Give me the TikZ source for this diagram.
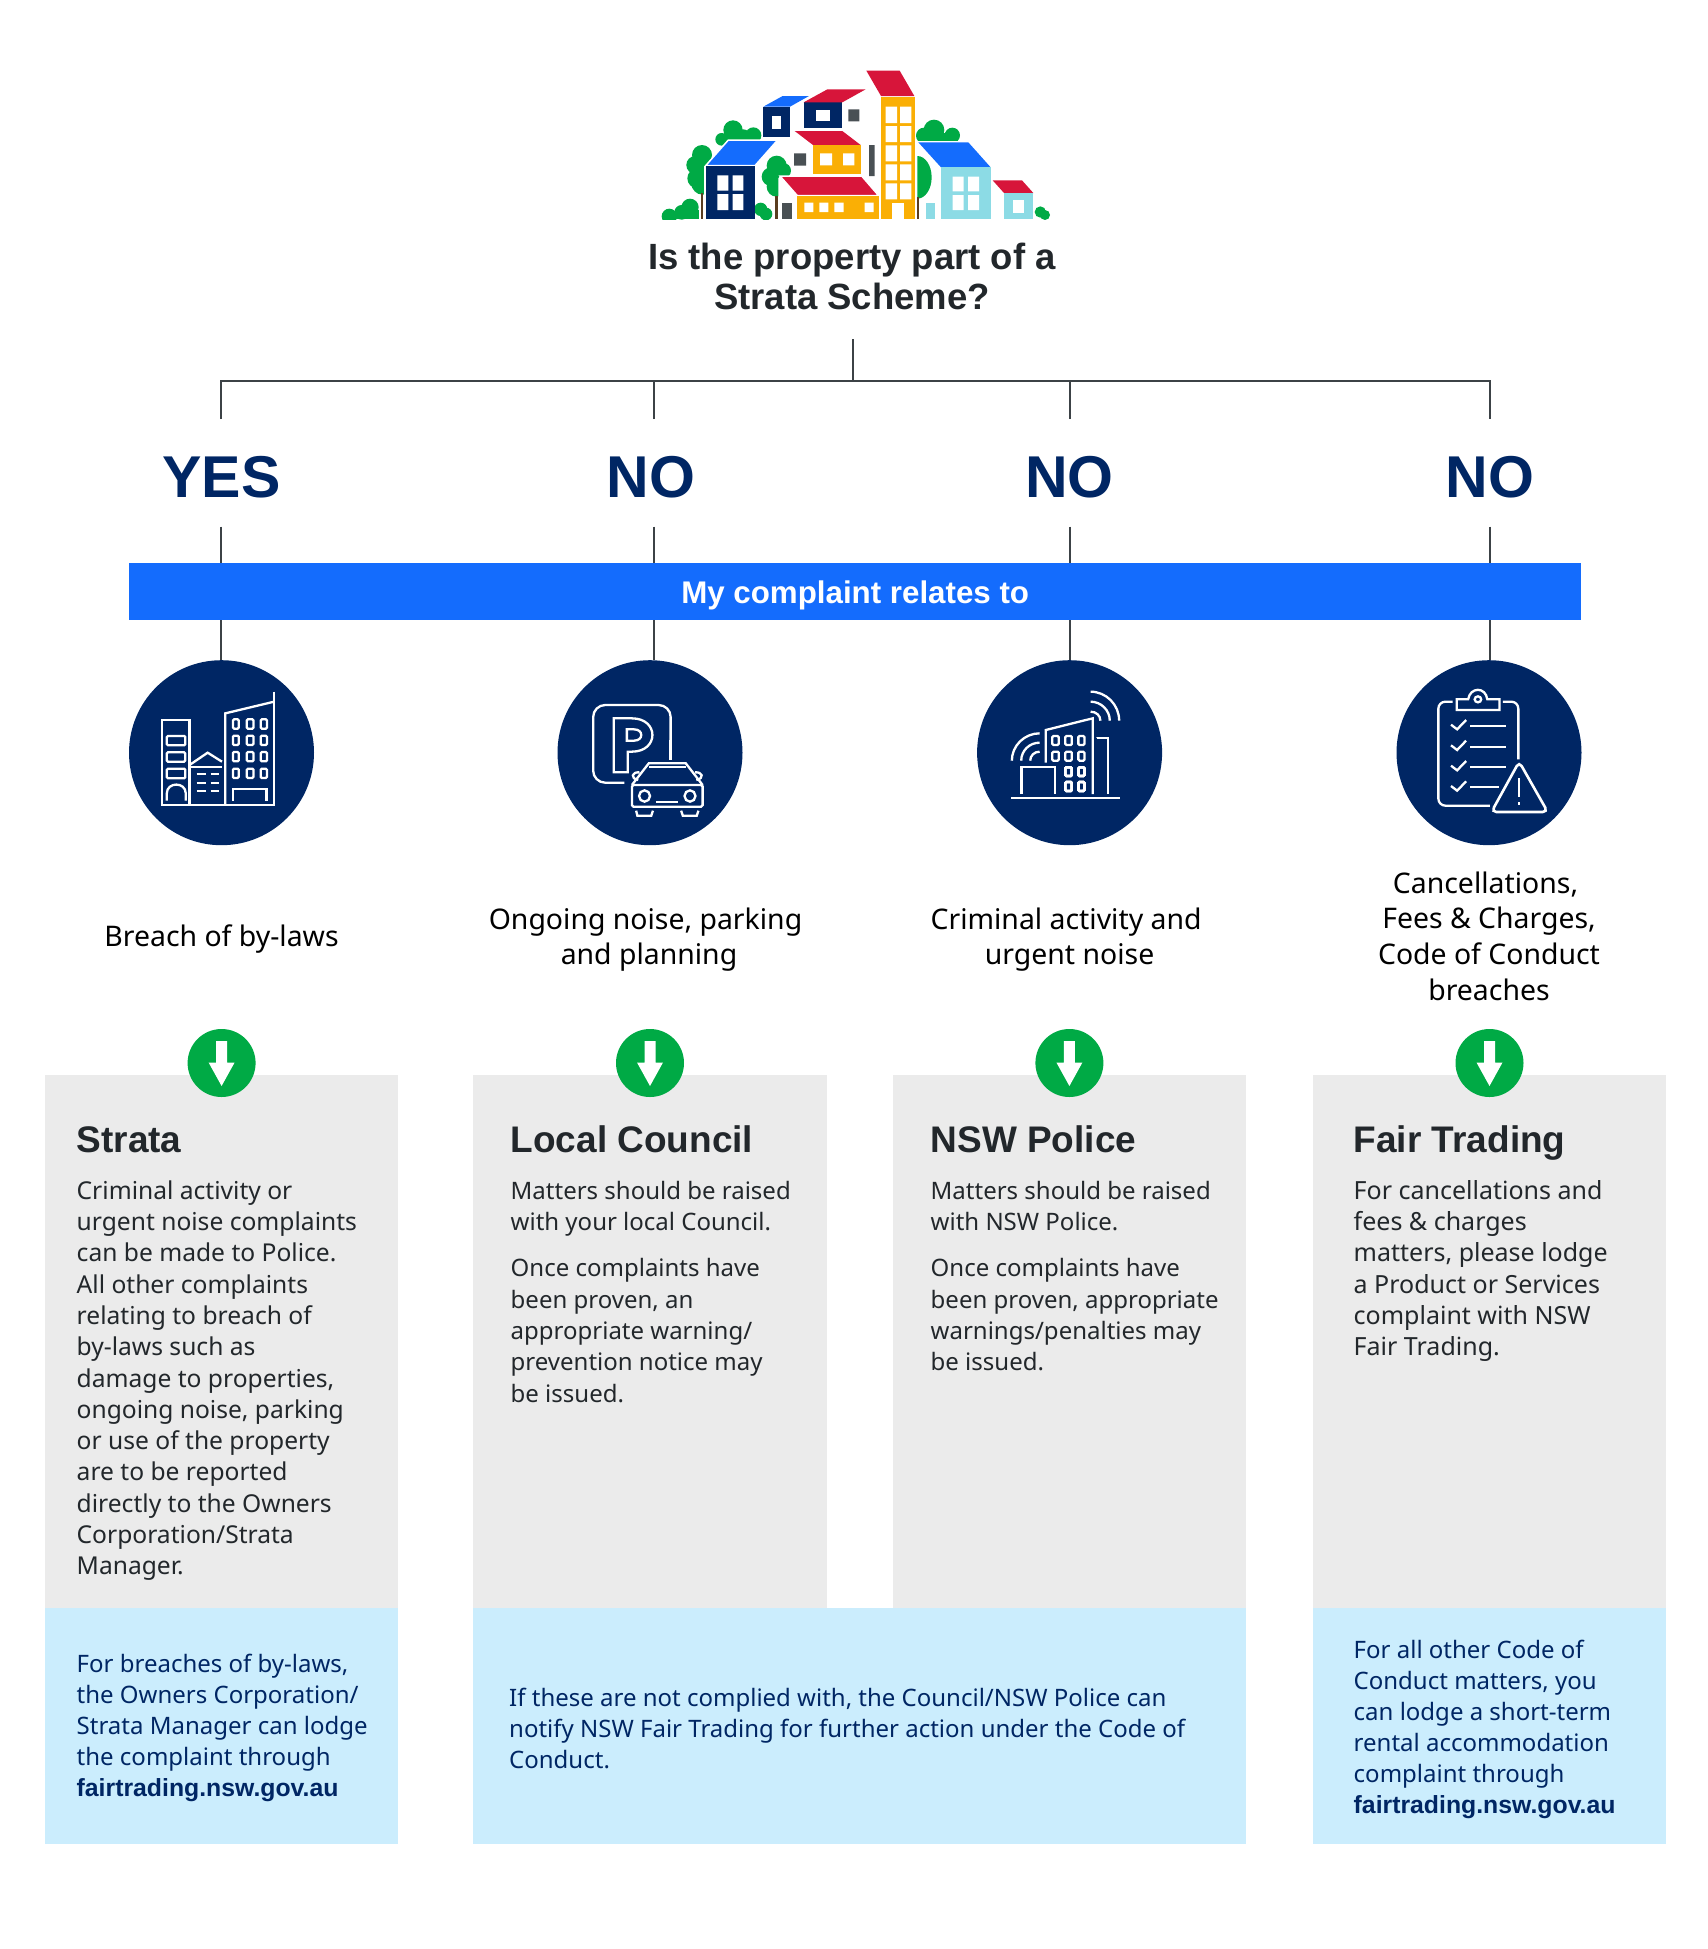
\documentclass[tikz,border=0pt]{standalone}
\usepackage{fontspec}
\setmainfont{Noto Sans}
\newfontfamily\strongface{Liberation Sans Bold}
\definecolor{navy}{HTML}{002664}
\definecolor{bright}{HTML}{146CFD}
\definecolor{leaf}{HTML}{00AA45}
\definecolor{pale}{HTML}{CBEDFD}
\definecolor{panelgrey}{HTML}{EBEBEB}
\definecolor{rose}{HTML}{D7153A}
\definecolor{amber}{HTML}{FAAF05}
\definecolor{aqua}{HTML}{8CDBE5}
\definecolor{slate}{HTML}{495054}
\definecolor{wire}{HTML}{3C4246}
\definecolor{ink}{HTML}{22272B}
\definecolor{bark}{HTML}{5A3D20}
\newcommand\fl{\rule{0pt}{24pt}}
\newcommand\winrect[4]{\draw[iconline,rounded corners=1.2pt] (#1,#2) rectangle (#3,#4);}
\newcommand\blob[3]{\fill[leaf] (#1,#2) circle [radius=#3];}
\newcommand\weblink[1]{{\strongface\fontsize{24.8}{31}\selectfont #1}}
\tikzset{
  connector/.style={draw=wire,line width=2pt},
  panel/.style={rectangle,fill=panelgrey,anchor=north west,inner sep=0,outer sep=0},
  bluepanel/.style={rectangle,fill=pale,anchor=north west,inner sep=0,outer sep=0},
  answer/.style={anchor=base,text=navy,inner sep=0,font=\strongface\fontsize{59}{60}\selectfont},
  heading/.style={anchor=base west,text=ink,inner sep=0,font=\strongface\fontsize{37}{40}\selectfont},
  body/.style={anchor=north west,align=left,text=ink,inner sep=0,font=\fontsize{24.6}{31.3}\selectfont},
  narrowbody/.style={body,font=\fontsize{24}{31.3}\selectfont},
  bluebody/.style={anchor=north west,align=left,text=navy,inner sep=0,font=\fontsize{24}{31}\selectfont},
  topic/.style={anchor=north,align=center,text=black,inner sep=0,font=\fontsize{28.4}{35.7}\selectfont},
  iconcircle/.style={circle,fill=navy,minimum size=185pt,inner sep=0,outer sep=0},
  greendot/.style={circle,fill=leaf,minimum size=68pt,inner sep=0,outer sep=0},
  iconline/.style={draw=white,line width=2.3pt,fill=none},
  roofedge/.style={draw=white,line width=1.5pt},
}
\begin{document}
\begin{tikzpicture}[x=1pt,y=-1pt]
\useasboundingbox (0,0) rectangle (1708,1949);
% ---- logo
\begin{scope}[shift={(640,50)},scale=1/3]
  \begin{scope}
    \clip (0,0) rectangle (1320,507);
    \blob{88}{499}{23} \blob{125}{487}{22} \blob{150}{472}{26}
    \fill[leaf] (88,490) rectangle (176,507);
    \fill[leaf] (150,480) rectangle (176,507);
    \blob{362}{478}{20} \blob{378}{492}{19}
    \blob{1201}{486}{17} \blob{1215}{495}{15}
  \end{scope}
  \blob{279}{240}{29} \blob{245}{268}{19} \blob{340}{256}{24} \blob{310}{258}{20}
  \fill[leaf] (245,255) rectangle (360,285);
  \blob{186}{315}{30} \blob{166}{345}{27} \blob{172}{385}{30} \blob{188}{350}{32} \blob{188}{400}{34}
  \blob{410}{347}{30} \blob{393}{380}{28} \blob{430}{362}{23} \blob{410}{385}{30} \blob{410}{410}{30}
  \begin{scope}
    \clip (832,300) rectangle (900,450);
    \fill[leaf] (832,382) circle [x radius=43, y radius=64];
  \end{scope}
  \begin{scope}
    \clip (800,200) rectangle (1000,272);
    \blob{882}{240}{31} \blob{852}{257}{24} \blob{937}{256}{23}
    \fill[leaf] (850,250) rectangle (937,272);
  \end{scope}
  \fill[bark] (183,430) rectangle (190,507);
  \fill[bark] (405,438) rectangle (413,507);
  \fill[bark] (832,440) rectangle (838,507);
  % left house
  \filldraw[fill=bright,roofedge] (265,270) -- (413,270) -- (345,347) -- (197,347) -- cycle;
  \fill[white] (192,347) rectangle (197,507);
  \fill[navy] (197,347) rectangle (345,507);
  \fill[white] (232,376) rectangle (265,422) (278,376) rectangle (310,422) (232,432) rectangle (265,480) (278,432) rectangle (310,480);
  % top small houses
  \fill[navy] (370,170) rectangle (450,262);
  \fill[white] (396,197) rectangle (423,236);
  \fill[bright] (370,170) -- (428,138) -- (507,138) -- (450,170) -- cycle;
  \fill[navy] (491,157) rectangle (607,235);
  \fill[white] (527,179) rectangle (571,213);
  \fill[rose] (491,157) -- (562,118) -- (677,118) -- (607,157) -- cycle;
  % grey blocks
  \fill[slate] (625,178) rectangle (658,214) (462,310) rectangle (498,347) (687,285) rectangle (704,378);
  % yellow house
  \fill[rose] (464,243) -- (607,243) -- (662,285) -- (519,285) -- cycle;
  \fill[amber] (519,285) rectangle (663,371);
  \fill[white] (540,310) rectangle (576,346) (609,310) rectangle (643,346);
  % long house
  \fill[white] (420,378) -- (472,437) -- (472,507) -- (415,507) -- (415,385) -- cycle;
  \filldraw[fill=rose,roofedge] (420,378) -- (665,378) -- (716,437) -- (472,437) -- cycle;
  \fill[slate] (427,459) rectangle (456,507);
  \fill[amber] (472,438) rectangle (716,507);
  \fill[white] (493,458) rectangle (520,486) (538,458) rectangle (565,486) (583,458) rectangle (611,486) (674,458) rectangle (701,486);
  % tower
  \fill[rose] (679,62) -- (779,62) -- (823,138) -- (723,138) -- cycle;
  \fill[amber] (723,140) rectangle (825,507);
  \foreach \yy/\zz in {170/219,228/276,286/334,343/391,400/448}
    \fill[white] (737,\yy) rectangle (771,\zz) (780,\yy) rectangle (814,\zz);
  \fill[white] (757,460) rectangle (791,507);
  % right
  \fill[aqua] (858,459) rectangle (885,507);
  \fill[bright] (835,277) -- (985,277) -- (1052,352) -- (903,352) -- cycle;
  \fill[aqua] (903,352) rectangle (1052,507);
  \fill[white] (938,380) rectangle (971,424) (984,380) rectangle (1017,424) (938,435) rectangle (971,480) (984,435) rectangle (1017,480);
  \fill[rose] (1058,391) -- (1146,391) -- (1180,429) -- (1092,429) -- cycle;
  \fill[aqua] (1092,429) rectangle (1180,507);
  \fill[white] (1119,451) rectangle (1153,488);
\end{scope}
% ---- question
\node[anchor=north,align=center,text=ink,inner sep=0,font=\strongface\fontsize{36.5}{40.5}\selectfont] (question) at (852,241) {\rule{0pt}{28pt}Is the property part of a\\Strata Scheme?};
% ---- tree
\coordinate (trunk) at (853,339);
\coordinate (hub) at (853,380.7);
\coordinate (d1) at (221.3,419);
\coordinate (d2) at (653.5,419);
\coordinate (d3) at (1070,419);
\coordinate (d4) at (1489.5,419);
\draw[connector] (trunk) -- (hub);
\draw[connector] (d1) |- (d4 |- hub) -- (d4);
\draw[connector] (d2) -- (d2 |- hub);
\draw[connector] (d3) -- (d3 |- hub);
\node[answer] (a1) at (221.5,497.7) {YES};
\node[answer] (a2) at (651,497.7) {NO};
\node[answer] (a3) at (1069.5,497.7) {NO};
\node[answer] (a4) at (1490,497.7) {NO};
\coordinate (e1) at (221.3,526.7);
\coordinate (e2) at (653.5,526.7);
\coordinate (e3) at (1070,526.7);
\coordinate (e4) at (1489.5,526.7);
% ---- bar
\node[rectangle,fill=bright,text=white,minimum width=1451.5pt,minimum height=57pt,inner sep=0,outer sep=0,font=\strongface\fontsize{31.3}{32}\selectfont] (bar) at (855.2,591.5) {\raisebox{-11.5pt}[0pt][0pt]{My complaint relates to}};
\node[iconcircle] (c1) at (221.5,752.7) {};
\node[iconcircle] (c2) at (650,752.7) {};
\node[iconcircle] (c3) at (1069.6,752.7) {};
\node[iconcircle] (c4) at (1489,752.7) {};
\foreach \i in {1,2,3,4} {
  \draw[connector] (e\i) -- (e\i |- bar.north);
  \draw[connector] (e\i |- bar.south) -- (e\i |- c\i.north);
}
% ---- icon 1
\begin{scope}[shift={(110,650)},xscale=0.4209,yscale=1/3]
  \draw[iconline] (124,465) -- (124,209) -- (189,209) -- (189,465);
  \winrect{135}{258}{179}{286} \winrect{135}{307}{179}{335} \winrect{135}{356}{179}{385}
  \draw[iconline] (135,452) -- (135,430) .. controls (135,395) and (180,395) .. (180,430) -- (180,452);
  \draw[iconline] (189,345) -- (232,308) -- (266,335);
  \draw[iconline] (192,350) -- (266,350);
  \foreach \yy in {373,398,423} \draw[iconline] (206,\yy) -- (229,\yy) (239,\yy) -- (258,\yy);
  \draw[iconline] (274,465) -- (274,190) -- (390,155);
  \draw[iconline] (390,125) -- (390,465);
  \draw[iconline] (122,465) -- (392,465);
  \foreach \xa/\xb in {292/306,325/341,358/373} \foreach \ya/\yb in {208/236,257/285,306/334,356/384} \winrect{\xa}{\ya}{\xb}{\yb}
  \draw[iconline] (293,452) -- (293,416) -- (372,416) -- (372,452);
\end{scope}
% ---- icon 2
\begin{scope}[shift={(110,650)},xscale=0.4209,yscale=1/3]
  \draw[iconline,rounded corners=12pt] (1222,398) -- (1148,398) -- (1148,165) -- (1332,165) -- (1332,280);
  \draw[iconline] (1332,270) -- (1332,330);
  \draw[iconline] (1197,367) -- (1197,205) -- (1240,205) .. controls (1305,205) and (1305,305) .. (1240,305) -- (1230,305) -- (1230,367) -- cycle;
  \draw[iconline] (1228,238) -- (1245,238) .. controls (1268,238) and (1268,272) .. (1245,272) -- (1228,272) -- cycle;
  \draw[iconline] (1240,405) -- (1280,340) -- (1368,340) -- (1408,405);
  \draw[iconline] (1280,350) -- (1368,350);
  \draw[iconline,rounded corners=1.5pt] (1240,405) rectangle (1408,470);
  \draw[iconline] (1270,438) circle [x radius=13, y radius=17];
  \draw[iconline] (1378,438) circle [x radius=13, y radius=17];
  \draw[iconline] (1297,455) -- (1350,455);
  \draw[iconline] (1250,482) -- (1253,497) -- (1286,497) -- (1290,482);
  \draw[iconline] (1357,482) -- (1361,497) -- (1394,497) -- (1398,482);
  \draw[iconline] (1255,390) .. controls (1235,385) and (1240,365) .. (1258,367);
  \draw[iconline] (1393,390) .. controls (1413,385) and (1408,365) .. (1390,367);
\end{scope}
% ---- icon 3
\begin{scope}[shift={(960,650)},xscale=1/2.45,yscale=1/3]
  \draw[iconline] (320,185) .. controls (334,185) and (344,197) .. (344,212);
  \draw[iconline] (320,155) .. controls (346,155) and (367,181) .. (367,212);
  \draw[iconline] (320,125) .. controls (358,125) and (390,164) .. (390,212);
  \draw[iconline] (172,332) .. controls (172,317) and (182,305) .. (195,305);
  \draw[iconline] (150,332) .. controls (150,302) and (170,278) .. (195,278);
  \draw[iconline] (127,332) .. controls (127,287) and (158,250) .. (195,250);
  \draw[iconline] (210,338) -- (210,240) -- (325,205) -- (325,432);
  \foreach \xa/\xb in {226/242,258/274,290/305} \foreach \ya/\yb in {258/285,305/332} \winrect{\xa}{\ya}{\xb}{\yb}
  \foreach \xa/\xb in {258/274,290/305} \foreach \ya/\yb in {352/378,396/423} \winrect{\xa}{\ya}{\xb}{\yb}
  \draw[iconline] (335,265) -- (363,265) -- (363,432);
  \draw[iconline] (151,432) -- (151,350) -- (232,350) -- (232,432);
  \draw[iconline,line width=2.8pt] (126,444) -- (391,444);
\end{scope}
% ---- icon 4
\begin{scope}[shift={(960,650)},xscale=1/2.45,yscale=1/3]
  \draw[iconline,rounded corners=7pt] (1207,155) -- (1172,155) -- (1172,467) -- (1298,467);
  \draw[iconline,rounded corners=7pt] (1330,155) -- (1368,155) -- (1368,328);
  \draw[iconline] (1217,148) -- (1245,148) .. controls (1250,110) and (1288,110) .. (1292,148) -- (1322,148) -- (1322,180) -- (1217,180) -- cycle;
  \draw[iconline] (1269,148) circle [x radius=8, y radius=9];
  \foreach \yy/\ll in {228/1338,290/1338,351/1338,412/1320} {
    \draw[iconline] (1250,\yy) -- (\ll,\yy);
    \draw[iconline] (1203,\yy-4) -- (1218,\yy+10) -- (1240,\yy-18);
  }
  \draw[iconline,line width=2.6pt,rounded corners=5pt] (1370,335) -- (1440,486) -- (1302,486) -- cycle;
  \draw[iconline,line width=2.6pt] (1370,385) -- (1370,442);
  \draw[iconline,line width=2.6pt] (1370,457) -- (1370,466);
\end{scope}
% ---- topics
\node[topic] (t1) at (221.5,922) {\fl Breach of by-laws};
\node[topic] (t2) at (649,905) {\fl Ongoing noise, parking\hspace*{7pt}\\and planning};
\node[topic] (t3) at (1069.6,905) {\fl Criminal activity and\hspace*{7pt}\\urgent noise};
\node[topic] (t4) at (1489,869) {\fl Cancellations,\hspace*{7pt}\\Fees \& Charges,\hspace*{7pt}\\Code of Conduct\hspace*{7pt}\\breaches};
% ---- panels
\node[panel,minimum width=353pt,minimum height=533pt] (p1) at (45,1075) {};
\node[panel,minimum width=354pt,minimum height=533pt] (p2) at (473,1075) {};
\node[panel,minimum width=353pt,minimum height=533pt] (p3) at (893,1075) {};
\node[panel,minimum width=352.5pt,minimum height=533pt] (p4) at (1313,1075) {};
\node[bluepanel,minimum width=353pt,minimum height=236.5pt] (b1) at (45,1607.5) {};
\node[bluepanel,minimum width=773pt,minimum height=236.5pt] (b2) at (473,1607.5) {};
\node[bluepanel,minimum width=352.5pt,minimum height=236.5pt] (b3) at (1313,1607.5) {};
\foreach \n/\xx in {1/221.6,2/650,3/1069.4,4/1489.5} {
  \node[greendot] (g\n) at (\xx,1063) {};
  \fill[white] (\xx-5.5,1041) -- (\xx+5.5,1041) -- (\xx+5.5,1062.5) -- (\xx+13,1062.5) -- (\xx,1086) -- (\xx-13,1062.5) -- (\xx-5.5,1062.5) -- cycle;
}
% ---- panel text
\node[heading] (h1) at (76.5,1152) {Strata};
\node[heading] (h2) at (510.5,1152) {Local Council};
\node[heading] (h3) at (930.5,1152) {NSW Police};
\node[heading] (h4) at (1353.5,1152) {Fair Trading};
\node[body] (x1) at (76.5,1175) {\fl Criminal activity or\\urgent noise complaints\\can be made to Police.\\All other complaints\\relating to breach of\\by-laws such as\\damage to properties,\\ongoing noise, parking\\or use of the property\\are to be reported\\directly to the Owners\\Corporation/Strata\\Manager.};
\node[narrowbody] (x2) at (510.5,1175) {\fl Matters should be raised\\with your local Council.\\[15pt]Once complaints have\\been proven, an\\appropriate warning/\\prevention notice may\\be issued.};
\node[narrowbody] (x3) at (930.5,1175) {\fl Matters should be raised\\with NSW Police.\\[15pt]Once complaints have\\been proven, appropriate\\warnings/penalties may\\be issued.};
\node[body,font=\fontsize{25}{31.3}\selectfont] (x4) at (1353.5,1175) {\fl For cancellations and\\fees \& charges\\matters, please lodge\\a Product or Services\\complaint with NSW\\Fair Trading.};
\node[bluebody] (y1) at (76.5,1648) {\fl For breaches of by-laws,\\the Owners Corporation/\\Strata Manager can lodge\\the complaint through\\\weblink{fairtrading.nsw.gov.au}};
\node[bluebody] (y2) at (509,1682) {\fl If these are not complied with, the Council/NSW Police can\\notify NSW Fair Trading for further action under the Code of\\Conduct.};
\node[bluebody] (y3) at (1353.5,1634.5) {\fl For all other Code of\\Conduct matters, you\\can lodge a short-term\\rental accommodation\\complaint through\\\weblink{fairtrading.nsw.gov.au}};
\end{tikzpicture}
\end{document}
